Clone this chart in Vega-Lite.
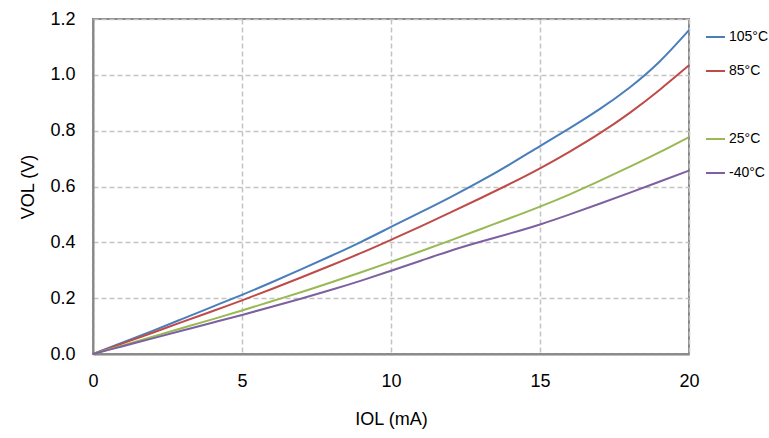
{
  "$schema": "https://vega.github.io/schema/vega-lite/v6.json",
  "width": 596,
  "height": 335,
  "autosize": {"type": "none"},
  "padding": {"left": 93, "top": 19, "right": 80, "bottom": 84},
  "background": "white",
  "config": {
    "font": "Liberation Sans",
    "view": {"stroke": "#898989", "strokeWidth": 2},
    "axis": {
      "labelFont": "Liberation Sans",
      "titleFont": "Liberation Sans",
      "labelFontSize": 18,
      "titleFontSize": 18,
      "labelColor": "#000000",
      "titleColor": "#000000",
      "titleFontWeight": "normal",
      "ticks": false,
      "labelFlush": false,
      "domainColor": "#898989",
      "domainWidth": 2,
      "gridColor": "#c3c3c3",
      "gridDash": [5, 3],
      "gridWidth": 1.5
    }
  },
  "data": {
    "values": [
      {"iol": 0, "vol": 0, "temp": "105°C"},
      {"iol": 1, "vol": 0.041, "temp": "105°C"},
      {"iol": 2, "vol": 0.083, "temp": "105°C"},
      {"iol": 3, "vol": 0.126, "temp": "105°C"},
      {"iol": 4, "vol": 0.169, "temp": "105°C"},
      {"iol": 5, "vol": 0.212, "temp": "105°C"},
      {"iol": 6, "vol": 0.257, "temp": "105°C"},
      {"iol": 7, "vol": 0.304, "temp": "105°C"},
      {"iol": 8, "vol": 0.352, "temp": "105°C"},
      {"iol": 9, "vol": 0.402, "temp": "105°C"},
      {"iol": 10, "vol": 0.455, "temp": "105°C"},
      {"iol": 11, "vol": 0.508, "temp": "105°C"},
      {"iol": 12, "vol": 0.562, "temp": "105°C"},
      {"iol": 13, "vol": 0.619, "temp": "105°C"},
      {"iol": 14, "vol": 0.68, "temp": "105°C"},
      {"iol": 15, "vol": 0.745, "temp": "105°C"},
      {"iol": 16, "vol": 0.809, "temp": "105°C"},
      {"iol": 17, "vol": 0.877, "temp": "105°C"},
      {"iol": 18, "vol": 0.954, "temp": "105°C"},
      {"iol": 19, "vol": 1.046, "temp": "105°C"},
      {"iol": 20, "vol": 1.16, "temp": "105°C"},
      {"iol": 0, "vol": 0, "temp": "85°C"},
      {"iol": 1, "vol": 0.038, "temp": "85°C"},
      {"iol": 2, "vol": 0.076, "temp": "85°C"},
      {"iol": 3, "vol": 0.115, "temp": "85°C"},
      {"iol": 4, "vol": 0.153, "temp": "85°C"},
      {"iol": 5, "vol": 0.192, "temp": "85°C"},
      {"iol": 6, "vol": 0.233, "temp": "85°C"},
      {"iol": 7, "vol": 0.275, "temp": "85°C"},
      {"iol": 8, "vol": 0.318, "temp": "85°C"},
      {"iol": 9, "vol": 0.362, "temp": "85°C"},
      {"iol": 10, "vol": 0.409, "temp": "85°C"},
      {"iol": 11, "vol": 0.457, "temp": "85°C"},
      {"iol": 12, "vol": 0.507, "temp": "85°C"},
      {"iol": 13, "vol": 0.558, "temp": "85°C"},
      {"iol": 14, "vol": 0.61, "temp": "85°C"},
      {"iol": 15, "vol": 0.665, "temp": "85°C"},
      {"iol": 16, "vol": 0.725, "temp": "85°C"},
      {"iol": 17, "vol": 0.79, "temp": "85°C"},
      {"iol": 18, "vol": 0.863, "temp": "85°C"},
      {"iol": 19, "vol": 0.945, "temp": "85°C"},
      {"iol": 20, "vol": 1.034, "temp": "85°C"},
      {"iol": 0, "vol": 0, "temp": "25°C"},
      {"iol": 1, "vol": 0.031, "temp": "25°C"},
      {"iol": 2, "vol": 0.062, "temp": "25°C"},
      {"iol": 3, "vol": 0.093, "temp": "25°C"},
      {"iol": 4, "vol": 0.124, "temp": "25°C"},
      {"iol": 5, "vol": 0.156, "temp": "25°C"},
      {"iol": 6, "vol": 0.189, "temp": "25°C"},
      {"iol": 7, "vol": 0.222, "temp": "25°C"},
      {"iol": 8, "vol": 0.257, "temp": "25°C"},
      {"iol": 9, "vol": 0.293, "temp": "25°C"},
      {"iol": 10, "vol": 0.33, "temp": "25°C"},
      {"iol": 11, "vol": 0.368, "temp": "25°C"},
      {"iol": 12, "vol": 0.407, "temp": "25°C"},
      {"iol": 13, "vol": 0.447, "temp": "25°C"},
      {"iol": 14, "vol": 0.487, "temp": "25°C"},
      {"iol": 15, "vol": 0.528, "temp": "25°C"},
      {"iol": 16, "vol": 0.572, "temp": "25°C"},
      {"iol": 17, "vol": 0.62, "temp": "25°C"},
      {"iol": 18, "vol": 0.67, "temp": "25°C"},
      {"iol": 19, "vol": 0.722, "temp": "25°C"},
      {"iol": 20, "vol": 0.777, "temp": "25°C"},
      {"iol": 0, "vol": 0, "temp": "-40°C"},
      {"iol": 1, "vol": 0.028, "temp": "-40°C"},
      {"iol": 2, "vol": 0.056, "temp": "-40°C"},
      {"iol": 3, "vol": 0.084, "temp": "-40°C"},
      {"iol": 4, "vol": 0.112, "temp": "-40°C"},
      {"iol": 5, "vol": 0.14, "temp": "-40°C"},
      {"iol": 6, "vol": 0.169, "temp": "-40°C"},
      {"iol": 7, "vol": 0.199, "temp": "-40°C"},
      {"iol": 8, "vol": 0.23, "temp": "-40°C"},
      {"iol": 9, "vol": 0.263, "temp": "-40°C"},
      {"iol": 10, "vol": 0.298, "temp": "-40°C"},
      {"iol": 11, "vol": 0.334, "temp": "-40°C"},
      {"iol": 12, "vol": 0.37, "temp": "-40°C"},
      {"iol": 13, "vol": 0.402, "temp": "-40°C"},
      {"iol": 14, "vol": 0.432, "temp": "-40°C"},
      {"iol": 15, "vol": 0.464, "temp": "-40°C"},
      {"iol": 16, "vol": 0.5, "temp": "-40°C"},
      {"iol": 17, "vol": 0.538, "temp": "-40°C"},
      {"iol": 18, "vol": 0.577, "temp": "-40°C"},
      {"iol": 19, "vol": 0.617, "temp": "-40°C"},
      {"iol": 20, "vol": 0.657, "temp": "-40°C"}
    ]
  },
  "mark": {"type": "line", "strokeWidth": 2, "interpolate": "natural"},
  "encoding": {
    "x": {
      "field": "iol",
      "type": "quantitative",
      "scale": {"domain": [0, 20], "nice": false},
      "axis": {"values": [0, 5, 10, 15, 20], "title": "IOL (mA)", "labelPadding": 18, "titlePadding": 20}
    },
    "y": {
      "field": "vol",
      "type": "quantitative",
      "scale": {"domain": [0, 1.2], "nice": false},
      "axis": {"values": [0, 0.2, 0.4, 0.6, 0.8, 1.0, 1.2], "format": ".1f", "title": "VOL (V)", "labelPadding": 18, "titlePadding": 12}
    },
    "color": {
      "field": "temp",
      "type": "nominal",
      "scale": {
        "domain": ["105°C", "85°C", " ", "25°C", "-40°C"],
        "range": ["#4a7ebb", "#be4b48", "#ffffff", "#98b954", "#7d60a0"]
      },
      "legend": {
        "title": null,
        "orient": "right",
        "offset": 4,
        "padding": 8,
        "symbolType": "stroke",
        "symbolSize": 361,
        "symbolStrokeWidth": 2,
        "labelFont": "Liberation Sans",
        "labelFontSize": 14,
        "labelColor": "#000000",
        "clipHeight": 20,
        "rowPadding": 14,
        "labelOffset": 3
      }
    }
  }
}
